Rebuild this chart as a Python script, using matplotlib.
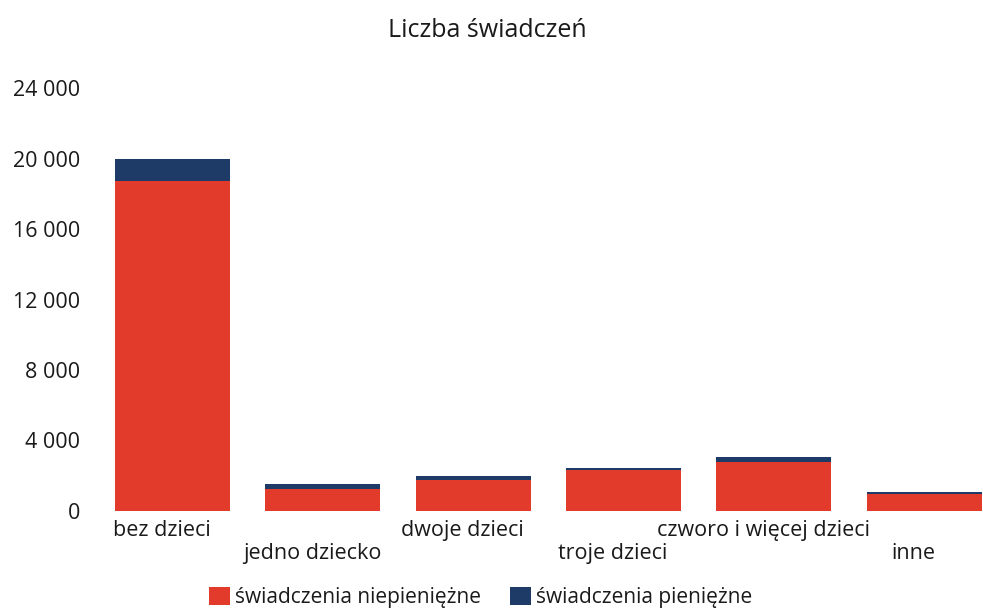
import matplotlib
matplotlib.use("Agg")
import matplotlib.pyplot as plt
import numpy as np
from matplotlib.patches import Patch

categories = ["bez dzieci", "jedno dziecko", "dwoje dzieci", "troje dzieci",
              "czworo i więcej dzieci", "inne"]
niepieniezne = [18700, 1250, 1760, 2330, 2800, 970]
pieniezne = [1300, 280, 240, 130, 250, 125]
yticks = [0, 4000, 8000, 12000, 16000, 20000, 24000]
ytick_labels = ["0", "4 000", "8 000", "12 000", "16 000", "20 000", "24 000"]
title = "Liczba świadczeń"
legend_labels = ["świadczenia niepieniężne", "świadczenia pieniężne"]

red = "#E23B2B"
blue = "#1D3B66"

plt.rcParams['font.family'] = ['Open Sans', 'DejaVu Sans']

fig = plt.figure(figsize=(9.83, 6.11), dpi=100)
ax = fig.add_axes([97/983, 100/611, (983-97)/983, (511-88)/611])

x = np.arange(len(categories))
w = 0.765
ax.bar(x, niepieniezne, width=w, color=red)
ax.bar(x, pieniezne, width=w, bottom=niepieniezne, color=blue)

ax.set_xlim(-0.5, 5.39)
ax.set_ylim(0, 24000)
ax.set_yticks(yticks)
ax.set_yticklabels(ytick_labels, fontsize=15.5, color="#1a1a1a")
ax.tick_params(axis='y', length=0, pad=12)
ax.tick_params(axis='x', length=0)
ax.set_xticks([])
for s in ax.spines.values():
    s.set_visible(False)

for i, c in enumerate(categories):
    yoff = -0.045 if i % 2 == 0 else -0.1
    ax.text(i - 0.07, yoff, c, transform=ax.get_xaxis_transform(),
            ha='center', va='center', fontsize=15.5, color="#1a1a1a")

fig.text(0.496, 0.95, title, ha='center', va='center', fontsize=18, color="#1a1a1a")

handles = [Patch(facecolor=red), Patch(facecolor=blue)]
fig.legend(handles, legend_labels, loc='center', bbox_to_anchor=(0.489, 0.022),
           ncol=2, frameon=False, fontsize=15, handlelength=1.0, handleheight=1.0,
           handletextpad=0.25, columnspacing=1.4, labelcolor="#1a1a1a")

fig.savefig("out.png", dpi=100)
